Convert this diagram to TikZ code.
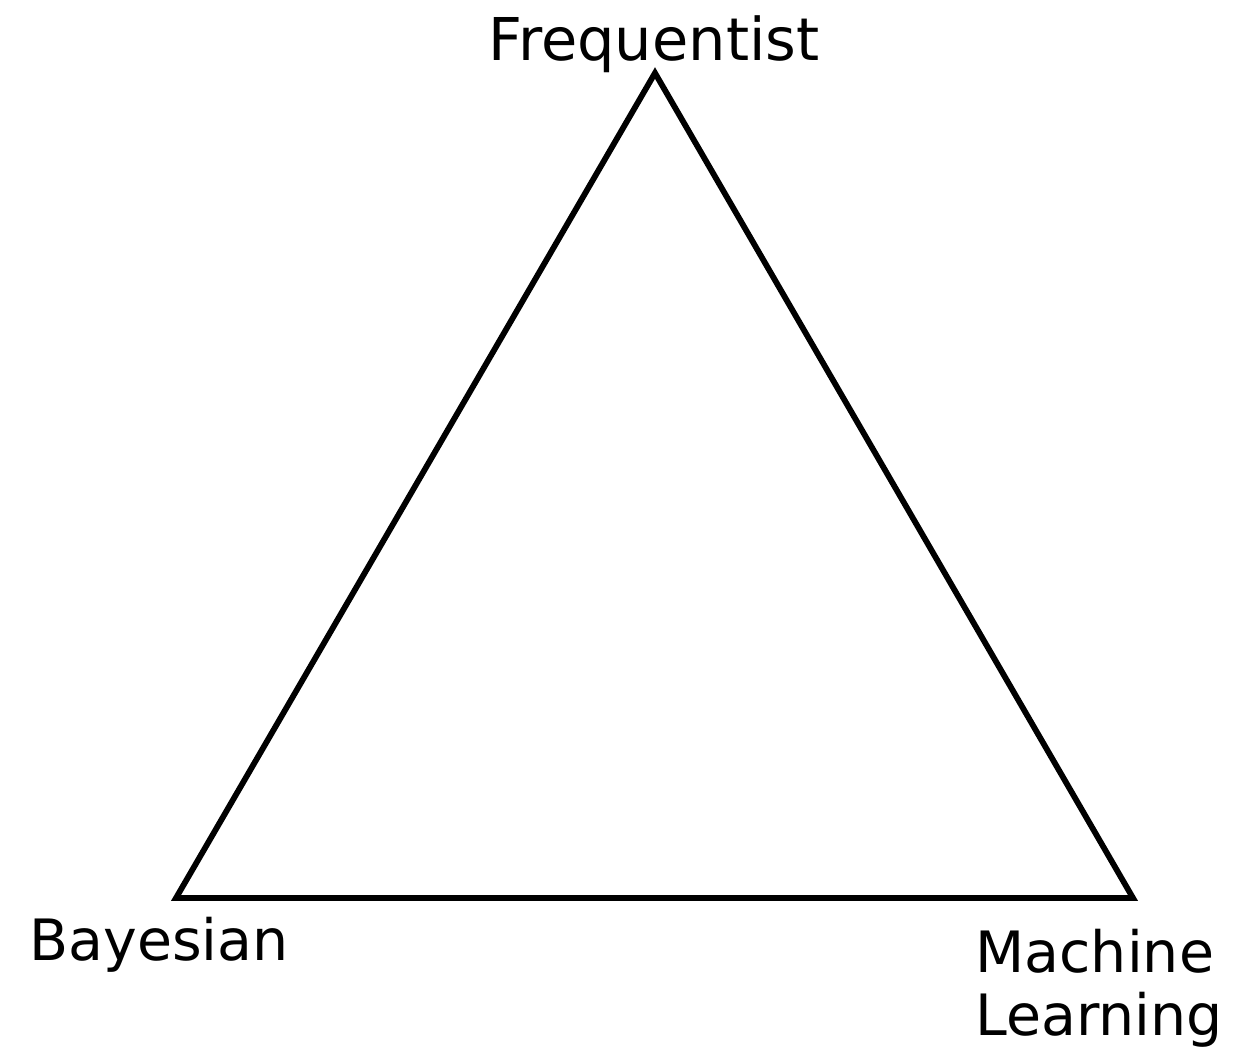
\documentclass[tikz,border=0pt]{standalone}
\usepackage{fontspec}
\setmainfont{DejaVu Sans}
\begin{document}
\begin{tikzpicture}[x=0.5pt,y=-0.5pt,
  lbl/.style={inner sep=0pt,font=\fontsize{29.5}{30}\selectfont},
  lbls/.style={inner sep=0pt,font=\fontsize{28.5}{30}\selectfont},
  edge/.style={line width=2.9pt,line join=miter}]
\useasboundingbox (0,0) rectangle (1239,1057);
\coordinate (F) at (655,73);
\coordinate (B) at (176,898);
\coordinate (M) at (1133,898);
\draw[edge] (F) -- (M) -- (B) -- cycle;
\node[lbl,anchor=base] (tF) at (654,60) {Frequentist};
\node[lbls,anchor=base west] (tB) at (29,960) {Bayesian};
\node[lbls,anchor=base west] (tM1) at (975,972) {Machine};
\node[lbls,anchor=base west] (tM2) at (975,1035) {Learning};
\end{tikzpicture}
\end{document}
